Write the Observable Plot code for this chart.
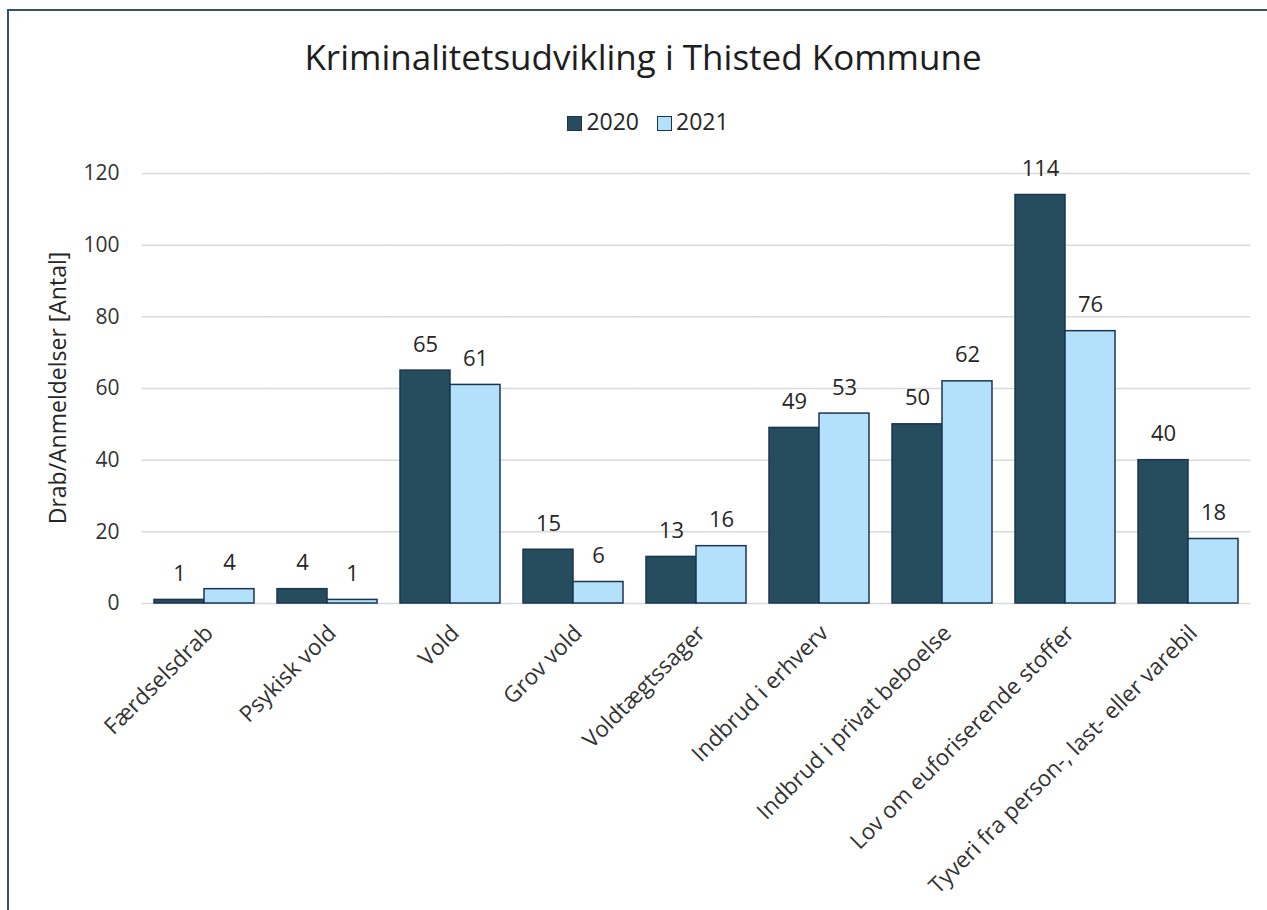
<!DOCTYPE html>
<html>
<head>
<meta charset="utf-8">
<script src="https://cdn.jsdelivr.net/npm/d3@7"></script>
<script src="https://cdn.jsdelivr.net/npm/@observablehq/plot@0.6"></script>
<style>
  html, body { margin: 0; padding: 0; background: #fff; }
  #wrap { position: relative; width: 1267px; height: 910px; overflow: hidden; font-family: "Open Sans", sans-serif; }
  #border { position: absolute; left: 7px; top: 9px; width: 1400px; height: 1000px; border-left: 2px solid #34506e; border-top: 2px solid #34506e; }
  #title { position: absolute; left: 0; width: 1286px; top: 35px; text-align: center; font-size: 35px; line-height: 44px; color: #1e1e1e; }
  #legend { position: absolute; left: 0; width: 1296px; top: 106px; text-align: center; font-size: 23px; line-height: 30px; color: #262626; }
  #legend span.item { display: inline-block; margin: 0 9px; }
  #legend span.sw { display: inline-block; width: 13px; height: 13px; border: 1px solid #1b3550; margin-right: 4px; vertical-align: -1px; }
  #ylabel { position: absolute; left: -143px; width: 400px; top: 373px; text-align: center; font-size: 23px; line-height: 30px; color: #262626; transform: rotate(-90deg); }
  #chart { position: absolute; left: 0; top: 140px; }
</style>
</head>
<body>
<div id="wrap">
  <div id="border"></div>
  <div id="title">Kriminalitetsudvikling i Thisted Kommune</div>
  <div id="legend"></div>
  <div id="ylabel">Drab/Anmeldelser [Antal]</div>
  <div id="chart"></div>
</div>
<script>
const categories = ["Færdselsdrab", "Psykisk vold", "Vold", "Grov vold", "Voldtægtssager", "Indbrud i erhverv", "Indbrud i privat beboelse", "Lov om euforiserende stoffer", "Tyveri fra person-, last- eller varebil"];
const years = ["2020", "2021"];
const values2020 = [1, 4, 65, 15, 13, 49, 50, 114, 40];
const values2021 = [4, 1, 61, 6, 16, 53, 62, 76, 18];
const yTicks = [0, 20, 40, 60, 80, 100, 120];
const colors = ["#264d5e", "#b3e1fb"];

const rows = [];
categories.forEach((c, i) => {
  rows.push({cat: c, year: years[0], value: values2020[i]});
  rows.push({cat: c, year: years[1], value: values2021[i]});
});

// legend
const legend = document.getElementById("legend");
years.forEach((y, i) => {
  const item = document.createElement("span");
  item.className = "item";
  item.innerHTML = `<span class="sw" style="background:${colors[i]}"></span>${y}`;
  legend.appendChild(item);
});

const chart = Plot.plot({
  width: 1267,
  height: 770,
  marginTop: 33,
  marginBottom: 307,
  marginLeft: 142,
  marginRight: 17,
  style: {fontFamily: "Open Sans, sans-serif", fontSize: "21px", color: "#333", background: "transparent"},
  fx: {domain: categories, paddingInner: 0.187, paddingOuter: 0.093, axis: null, label: null},
  x: {domain: years, padding: 0, axis: null},
  y: {domain: [0, 120], ticks: yTicks, tickSize: 0, tickPadding: 35, label: null},
  color: {domain: years, range: colors},
  marks: [
    Plot.ruleY(yTicks, {stroke: "#d9d9d9", strokeWidth: 1.5, insetLeft: -12, insetRight: -12}),
    Plot.barY(rows, {fx: "cat", x: "year", y: "value", fill: "year", stroke: "#1b3550", strokeWidth: 1.5}),
    Plot.text(rows, {fx: "cat", x: "year", y: "value", text: d => String(d.value), lineAnchor: "bottom", dy: -19, fontSize: 22, fill: "#262626"}),
    Plot.text(categories, {fx: d => d, text: d => d, frameAnchor: "bottom", rotate: -45, textAnchor: "end", lineAnchor: "middle", dy: 26, dx: 5, fontSize: 22.5, fill: "#333"})
  ]
});
document.getElementById("chart").appendChild(chart);
</script>
</body>
</html>
